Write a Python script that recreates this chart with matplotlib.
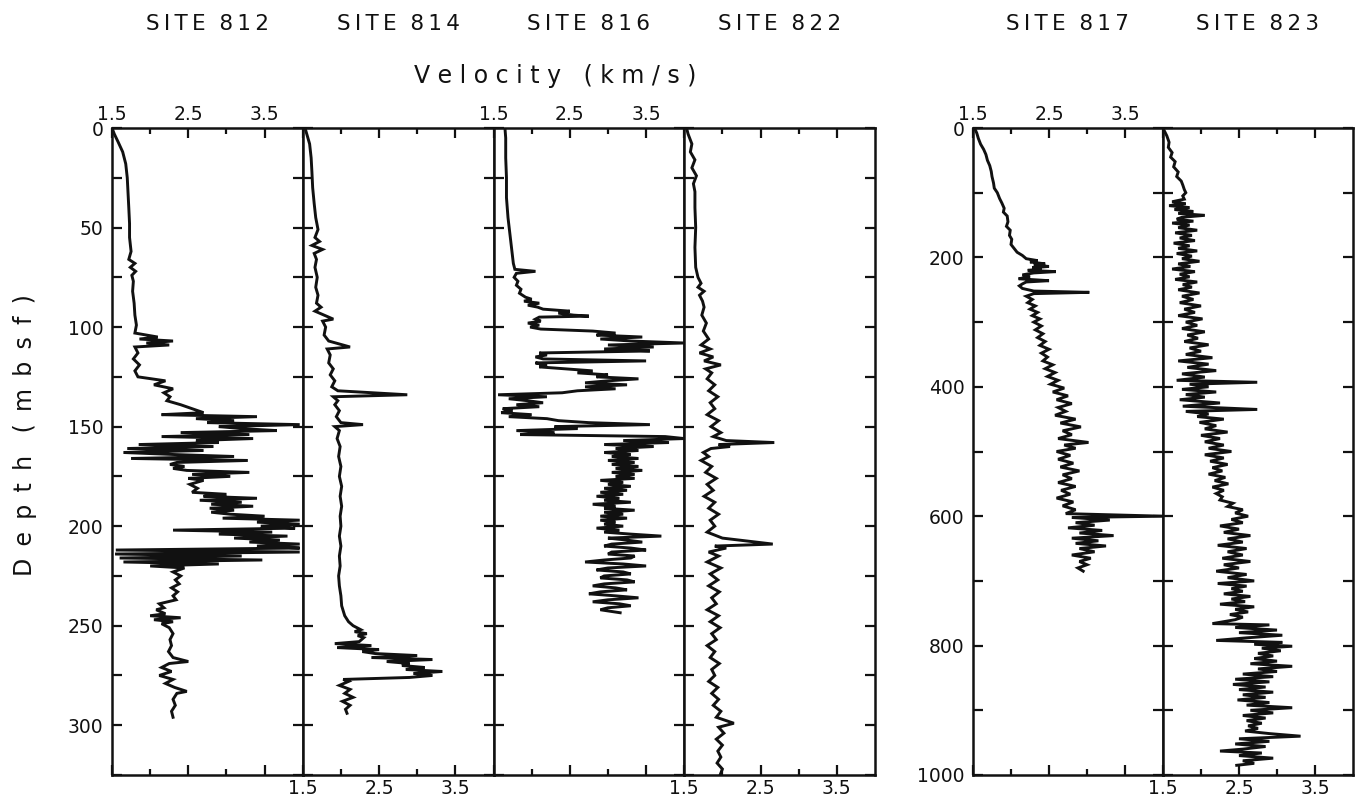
import matplotlib
matplotlib.use("Agg")
import matplotlib.pyplot as plt
from matplotlib.ticker import FixedLocator, MultipleLocator

# (depth mbsf, velocity km/s)
log_812 = [(0, 1.50), (3, 1.53), (7, 1.58), (12, 1.64), (18, 1.68), (25, 1.70), (32, 1.71), (40, 1.72),
           (48, 1.73), (55, 1.73), (62, 1.75), (66, 1.72), (68, 1.80), (70, 1.74), (72, 1.81), (74, 1.76),
           (77, 1.78), (82, 1.77), (88, 1.79), (94, 1.80), (99, 1.82), (103, 1.80), (105, 2.10), (106, 1.86),
           (107, 2.30), (108, 1.95), (109, 2.25), (110, 1.80), (113, 1.84), (116, 1.78), (119, 1.86),
           (122, 1.80), (125, 1.84), (127, 2.20), (129, 2.05), (131, 2.30), (133, 2.18), (135, 2.26),
           (137, 2.22), (139, 2.40), (141, 2.55), (143, 2.70), (144, 2.15), (145, 3.40), (146, 2.60),
           (147, 3.10), (148, 2.75), (149, 3.96), (150, 2.90), (151, 3.20), (152, 3.66), (153, 2.40),
           (154, 3.30), (155, 2.15), (156, 3.35), (157, 2.60), (158, 2.90), (159, 1.85), (160, 2.83),
           (161, 1.70), (162, 2.70), (163, 1.65), (164, 2.30), (165, 3.10), (166, 1.75), (167, 3.28),
           (168, 2.35), (169, 2.26), (170, 2.45), (171, 2.30), (172, 2.48), (173, 3.30), (174, 2.55),
           (175, 3.05), (176, 2.50), (177, 2.70), (179, 2.52), (181, 2.62), (183, 2.55), (184, 3.00),
           (185, 2.70), (186, 3.40), (187, 2.65), (188, 3.20), (189, 2.80), (190, 3.35), (191, 2.78),
           (192, 3.10), (193, 2.80), (194, 3.05), (195, 3.50), (196, 2.95), (197, 3.96), (198, 3.40),
           (199, 3.96), (200, 3.45), (201, 3.90), (202, 2.30), (203, 3.60), (204, 2.90), (205, 3.80),
           (206, 3.10), (207, 3.70), (208, 3.30), (209, 3.96), (210, 3.40), (211, 3.96), (212, 1.55),
           (213, 3.96), (214, 1.54), (215, 3.20), (216, 1.60), (217, 3.47), (218, 1.65), (219, 2.90),
           (220, 2.00), (221, 2.45), (223, 2.30), (225, 2.40), (227, 2.33), (229, 2.38), (231, 2.28),
           (233, 2.36), (235, 2.30), (237, 2.34), (239, 2.12), (241, 2.18), (242, 2.08), (244, 2.20),
           (245, 2.00), (246, 2.40), (247, 2.05), (248, 2.30), (249, 2.15), (251, 2.25), (254, 2.30),
           (257, 2.26), (260, 2.28), (263, 2.24), (266, 2.30), (268, 2.50), (269, 2.25), (271, 2.15),
           (273, 2.28), (275, 2.12), (277, 2.30), (279, 2.20), (281, 2.32), (283, 2.48), (284, 2.35),
           (287, 2.30), (290, 2.33), (293, 2.28), (296, 2.30)]

log_814 = [(0, 1.53), (4, 1.56), (8, 1.59), (15, 1.61), (22, 1.62), (30, 1.63), (38, 1.65), (45, 1.67),
           (51, 1.70), (55, 1.66), (57, 1.72), (59, 1.62), (61, 1.76), (63, 1.65), (66, 1.68), (70, 1.66),
           (75, 1.69), (80, 1.67), (84, 1.70), (88, 1.68), (90, 1.74), (92, 1.66), (94, 1.78), (96, 1.90),
           (97, 1.76), (100, 1.80), (104, 1.78), (107, 1.84), (110, 2.12), (111, 1.82), (114, 1.86),
           (118, 1.84), (121, 1.90), (124, 1.86), (127, 1.92), (130, 1.88), (132, 1.96), (134, 2.87),
           (135, 1.90), (137, 1.96), (139, 1.92), (142, 1.98), (145, 1.94), (148, 2.00), (149, 2.29),
           (150, 1.92), (152, 1.98), (156, 1.95), (160, 1.99), (165, 1.97), (170, 2.00), (175, 1.98),
           (180, 2.01), (185, 1.99), (190, 2.01), (195, 1.99), (200, 2.00), (205, 1.98), (210, 2.00),
           (215, 1.98), (220, 1.99), (225, 1.97), (230, 1.98), (235, 2.00), (240, 2.01), (245, 2.05),
           (248, 2.10), (250, 2.16), (252, 2.26), (253, 2.18), (254, 2.34), (255, 2.22), (256, 2.30),
           (258, 2.24), (259, 1.92), (260, 2.40), (261, 1.95), (262, 2.50), (263, 2.28), (264, 2.45),
           (265, 3.00), (266, 2.40), (267, 3.20), (268, 2.60), (269, 2.90), (270, 2.80), (271, 3.10),
           (272, 2.85), (273, 3.33), (274, 2.95), (275, 3.20), (276, 2.90), (277, 2.03), (278, 2.10),
           (280, 1.98), (282, 2.12), (284, 2.05), (286, 2.16), (288, 2.02), (290, 2.12), (292, 2.06),
           (294, 2.08)]

log_816 = [(0, 1.65), (5, 1.66), (15, 1.66), (25, 1.67), (35, 1.67), (45, 1.69), (55, 1.72), (62, 1.74),
           (68, 1.76), (71, 1.78), (72, 2.05), (73, 1.80), (75, 1.77), (77, 1.82), (79, 1.80), (81, 1.86),
           (83, 1.84), (85, 1.92), (86, 2.00), (87, 1.90), (88, 2.10), (89, 1.95), (90, 2.08), (91, 2.15),
           (92, 2.50), (93, 2.35), (94, 2.55), (94.5, 2.75), (95, 2.10), (96, 2.05), (97, 2.12), (98, 1.95),
           (99, 2.10), (100, 1.98), (101, 2.12), (102, 2.80), (103, 3.10), (104, 2.85), (105, 3.45),
           (106, 2.90), (107, 3.30), (108, 4.00), (109, 3.00), (110, 3.60), (111, 2.95), (112, 3.55),
           (113, 2.10), (114, 2.20), (115, 2.05), (116, 2.15), (117, 3.50), (118, 2.05), (119, 2.20),
           (120, 2.10), (121, 2.45), (122, 2.80), (123, 2.60), (124, 3.00), (125, 2.85), (126, 3.40),
           (127, 3.00), (128, 2.70), (129, 3.25), (130, 2.70), (131, 3.10), (132, 2.60), (133, 2.40),
           (134, 1.56), (135, 2.20), (136, 1.70), (137, 1.95), (138, 2.15), (139, 1.80), (140, 2.10),
           (141, 1.62), (142, 1.75), (143, 1.60), (144, 2.00), (145, 1.70), (146, 2.20), (147, 2.35),
           (148, 2.75), (149, 3.55), (150, 2.30), (151, 2.60), (152, 1.80), (153, 2.30), (154, 1.85),
           (155, 3.75), (156, 4.00), (157, 3.20), (158, 3.80), (159, 2.95), (160, 3.60), (161, 3.10),
           (162, 3.40), (163, 2.95), (164, 3.30), (165, 3.05), (166, 3.40), (167, 3.00), (168, 3.35),
           (169, 3.05), (170, 3.40), (171, 3.10), (172, 3.45), (173, 3.05), (174, 3.35), (175, 3.10),
           (176, 3.35), (177, 2.90), (178, 3.20), (179, 3.00), (180, 3.30), (181, 2.95), (182, 3.25),
           (183, 2.90), (184, 3.20), (185, 2.85), (186, 3.15), (187, 2.95), (188, 3.30), (189, 2.80),
           (190, 3.10), (191, 2.95), (192, 3.35), (193, 2.95), (194, 3.20), (195, 2.90), (196, 3.25),
           (197, 2.90), (198, 3.10), (199, 2.95), (200, 3.20), (201, 2.85), (202, 3.15), (203, 2.95),
           (204, 3.30), (205, 3.70), (206, 3.00), (207, 3.25), (208, 3.45), (209, 3.05), (210, 2.95),
           (211, 3.30), (212, 3.50), (213, 3.05), (214, 3.00), (215, 3.35), (216, 3.30), (217, 2.95),
           (218, 2.70), (219, 3.20), (220, 3.50), (221, 3.00), (222, 2.85), (223, 3.20), (224, 3.30),
           (225, 2.95), (226, 2.90), (227, 3.25), (228, 3.35), (229, 2.95), (230, 2.80), (231, 3.10),
           (232, 3.25), (233, 2.90), (234, 2.75), (235, 3.10), (236, 3.40), (237, 3.00), (238, 2.80),
           (239, 3.15), (240, 3.30), (241, 3.00), (242, 2.90), (243.5, 3.16)]

log_822 = [(0, 1.53), (3, 1.55), (8, 1.60), (12, 1.58), (16, 1.64), (20, 1.60), (24, 1.66), (28, 1.62),
           (32, 1.64), (40, 1.64), (50, 1.65), (60, 1.64), (70, 1.65), (75, 1.68), (78, 1.72), (80, 1.68),
           (82, 1.76), (84, 1.70), (87, 1.74), (90, 1.76), (94, 1.73), (98, 1.79), (102, 1.75), (106, 1.82),
           (109, 1.72), (111, 1.84), (113, 1.70), (115, 1.88), (117, 1.76), (119, 1.98), (121, 1.78),
           (123, 1.86), (126, 1.80), (129, 1.90), (132, 1.82), (135, 1.94), (138, 1.84), (141, 1.90),
           (144, 1.80), (147, 1.95), (150, 1.85), (153, 1.98), (155, 1.88), (157, 2.05), (158, 2.68),
           (159, 1.95), (160, 2.10), (161, 1.85), (163, 1.75), (165, 1.82), (167, 1.72), (170, 1.86),
           (173, 1.78), (176, 1.92), (179, 1.80), (182, 1.88), (185, 1.76), (188, 1.90), (191, 1.82),
           (194, 1.95), (197, 1.84), (200, 1.90), (203, 1.80), (206, 2.00), (209, 2.66), (210, 1.90),
           (211, 2.05), (213, 1.82), (215, 1.95), (218, 1.80), (221, 1.98), (224, 1.84), (227, 1.94),
           (230, 1.82), (233, 1.96), (236, 1.86), (239, 1.92), (242, 1.80), (245, 1.95), (248, 1.84),
           (251, 1.97), (254, 1.86), (257, 1.92), (260, 1.80), (263, 1.90), (266, 1.84), (269, 1.96),
           (272, 1.86), (275, 1.90), (278, 1.82), (281, 1.94), (284, 1.86), (287, 1.95), (290, 1.88),
           (293, 1.98), (296, 1.92), (299, 2.15), (301, 1.95), (304, 2.02), (307, 1.92), (310, 2.00),
           (313, 1.94), (316, 1.98), (319, 1.93), (322, 2.00), (325, 1.97)]

log_817 = [(0, 1.52), (8, 1.55), (16, 1.57), (25, 1.60), (33, 1.64), (41, 1.67), (50, 1.69), (58, 1.72),
           (67, 1.74), (75, 1.75), (85, 1.77), (93, 1.78), (100, 1.82), (109, 1.85), (116, 1.88), (124, 1.91),
           (130, 1.90), (136, 1.95), (145, 1.96), (152, 1.94), (158, 1.99), (166, 1.98), (172, 2.01),
           (180, 2.00), (186, 2.04), (192, 2.08), (197, 2.15), (202, 2.20), (205, 2.35), (207, 2.25),
           (210, 2.45), (212, 2.30), (214, 2.50), (216, 2.28), (218, 2.40), (220, 2.22), (222, 2.59),
           (224, 2.30), (227, 2.15), (230, 2.25), (233, 2.10), (236, 2.50), (238, 2.20), (241, 2.15),
           (244, 2.11), (248, 2.15), (252, 2.30), (254, 3.03), (256, 2.30), (260, 2.20), (265, 2.28),
           (270, 2.22), (275, 2.32), (280, 2.25), (285, 2.35), (290, 2.28), (295, 2.38), (300, 2.30),
           (306, 2.40), (312, 2.32), (318, 2.42), (324, 2.35), (330, 2.45), (336, 2.38), (342, 2.50),
           (348, 2.40), (354, 2.48), (360, 2.42), (366, 2.55), (372, 2.45), (378, 2.58), (384, 2.48),
           (390, 2.62), (396, 2.52), (402, 2.70), (408, 2.55), (414, 2.75), (420, 2.60), (426, 2.80),
           (432, 2.62), (438, 2.72), (444, 2.58), (450, 2.85), (456, 2.65), (462, 2.92), (468, 2.68),
           (474, 2.80), (480, 2.62), (486, 3.02), (490, 2.70), (495, 2.85), (500, 2.60), (506, 2.78),
           (512, 2.62), (518, 2.82), (524, 2.65), (530, 2.90), (536, 2.68), (542, 2.80), (548, 2.62),
           (554, 2.85), (560, 2.66), (566, 2.78), (572, 2.60), (578, 2.82), (584, 2.68), (590, 2.85),
           (596, 2.72), (600, 4.00), (602, 2.80), (606, 3.30), (610, 2.85), (614, 3.10), (618, 2.75),
           (622, 3.20), (626, 2.90), (630, 3.35), (634, 2.80), (638, 3.15), (642, 2.85), (646, 3.25),
           (650, 2.90), (655, 3.10), (660, 2.80), (665, 3.05), (670, 2.90), (675, 3.00), (680, 2.88),
           (685, 2.95)]

log_823 = [(0, 1.50), (5, 1.52), (12, 1.55), (22, 1.58), (30, 1.57), (38, 1.62), (45, 1.60), (52, 1.66),
           (60, 1.64), (68, 1.70), (75, 1.68), (82, 1.74), (88, 1.76), (95, 1.78), (100, 1.80), (105, 1.76),
           (110, 1.78), (114, 1.62), (117, 1.80), (120, 1.58), (123, 1.85), (126, 1.65), (129, 1.90),
           (132, 1.70), (135, 2.05), (138, 1.75), (141, 1.68), (144, 1.90), (147, 1.62), (150, 1.85),
           (154, 1.70), (158, 1.95), (162, 1.66), (166, 1.88), (170, 1.72), (174, 1.92), (178, 1.64),
           (182, 1.85), (186, 1.70), (190, 1.95), (194, 1.68), (198, 1.88), (202, 1.75), (206, 1.98),
           (210, 1.70), (214, 1.86), (218, 1.62), (222, 1.92), (226, 1.72), (230, 1.85), (234, 1.66),
           (238, 1.95), (242, 1.76), (246, 1.88), (250, 1.70), (255, 1.98), (260, 1.75), (265, 1.90),
           (270, 1.72), (275, 2.00), (280, 1.78), (285, 1.92), (290, 1.70), (295, 2.02), (300, 1.80),
           (305, 1.95), (310, 1.75), (315, 2.05), (320, 1.82), (325, 1.96), (330, 1.78), (335, 2.10),
           (340, 1.85), (345, 2.00), (350, 1.80), (355, 2.15), (360, 1.70), (365, 2.10), (370, 1.82),
           (375, 2.20), (380, 1.75), (385, 2.05), (390, 1.68), (393, 2.74), (396, 1.85), (400, 2.10),
           (404, 1.75), (408, 2.20), (412, 1.80), (416, 2.05), (420, 1.72), (425, 2.25), (430, 1.76),
           (435, 2.74), (438, 1.80), (442, 2.10), (446, 1.95), (450, 2.30), (455, 1.98), (460, 2.20),
           (465, 2.05), (470, 2.35), (475, 2.00), (480, 2.25), (485, 2.05), (490, 2.30), (495, 2.10),
           (500, 2.40), (505, 2.05), (510, 2.30), (515, 2.12), (520, 2.35), (525, 2.15), (530, 2.28),
           (535, 2.10), (540, 2.32), (545, 2.18), (550, 2.36), (555, 2.15), (560, 2.30), (565, 2.20),
           (570, 2.28), (575, 2.25), (580, 2.42), (585, 2.35), (590, 2.55), (595, 2.45), (600, 2.62),
           (605, 2.40), (610, 2.55), (615, 2.25), (620, 2.50), (625, 2.30), (630, 2.65), (635, 2.35),
           (640, 2.55), (645, 2.22), (650, 2.60), (655, 2.35), (660, 2.55), (665, 2.28), (670, 2.65),
           (675, 2.30), (680, 2.50), (685, 2.20), (690, 2.60), (695, 2.35), (700, 2.70), (704, 2.22),
           (708, 2.60), (712, 2.40), (716, 2.55), (720, 2.30), (724, 2.65), (728, 2.40), (732, 2.58),
           (736, 2.25), (740, 2.70), (744, 2.45), (748, 2.62), (752, 2.38), (756, 2.55), (760, 2.45),
           (766, 2.15), (768, 2.90), (772, 2.45), (776, 3.00), (780, 2.50), (784, 3.07), (788, 2.60),
           (792, 2.20), (795, 3.07), (798, 2.70), (801, 3.20), (804, 2.80), (808, 3.05), (812, 2.75),
           (816, 2.95), (820, 2.70), (824, 3.00), (828, 2.65), (832, 3.20), (836, 2.75), (840, 3.00),
           (844, 2.55), (848, 2.95), (852, 2.45), (856, 2.90), (860, 2.42), (864, 2.85), (868, 2.50),
           (872, 2.95), (876, 2.55), (880, 2.85), (884, 2.48), (888, 2.90), (892, 2.60), (896, 3.20),
           (900, 2.65), (904, 2.95), (908, 2.55), (912, 2.85), (916, 2.60), (920, 2.80), (924, 2.62),
           (928, 2.75), (932, 2.58), (936, 2.90), (940, 3.31), (944, 2.50), (948, 2.90), (952, 2.45),
           (956, 2.85), (960, 2.55), (963, 2.25), (966, 2.80), (970, 2.50), (974, 2.95), (978, 2.55),
           (982, 2.70), (985, 2.47)]

vel_ticks = [1.5, 2.5, 3.5]
vel_minor = [2.0, 3.0]

# site, data, left edge px, panel width px, depth range, tick labels on top?
panels = [
    ("812", log_812, 112, 190.75, 325, True),
    ("814", log_814, 302.75, 190.75, 325, False),
    ("816", log_816, 493.5, 190.75, 325, True),
    ("822", log_822, 684.25, 190.75, 325, False),
    ("817", log_817, 973, 190, 1000, True),
    ("823", log_823, 1163, 190, 1000, False),
]

W, H = 1360, 807
TOP, BOT = 128, 775
INK = "#111111"
TS = "\u2009"  # thin space for letter spacing

fig = plt.figure(figsize=(W / 100, H / 100), dpi=100)
fig.patch.set_facecolor("white")

for site, log, x0, pw, dmax, top_labels in panels:
    ax = fig.add_axes([x0 / W, 1 - BOT / H, pw / W, (BOT - TOP) / H])
    depth = [d for d, v in log]
    vel = [v for d, v in log]
    ax.plot(vel, depth, color=INK, lw=2.1, solid_joinstyle="miter")
    ax.set_xlim(1.5, 4.0)
    ax.set_ylim(dmax, 0)

    ax.xaxis.set_major_locator(FixedLocator(vel_ticks))
    ax.xaxis.set_minor_locator(FixedLocator(vel_minor))
    ax.set_xticklabels([f"{t:.1f}" for t in vel_ticks])
    if dmax == 325:
        ax.yaxis.set_major_locator(MultipleLocator(50))
        ax.yaxis.set_minor_locator(MultipleLocator(25))
    else:
        ax.yaxis.set_major_locator(MultipleLocator(200))
        ax.yaxis.set_minor_locator(MultipleLocator(100))

    first = x0 in (112, 973)
    ax.tick_params(axis="both", which="both", direction="in", top=True, bottom=True,
                   left=True, right=True, width=1.6, colors=INK, labelsize=13.5)
    ax.tick_params(axis="x", which="major", length=7, pad=3,
                   labeltop=top_labels, labelbottom=not top_labels)
    ax.tick_params(axis="x", which="minor", length=4)
    ax.tick_params(axis="y", which="both", length=7, pad=6, labelleft=first)
    for s in ax.spines.values():
        s.set_linewidth(1.8)
        s.set_color(INK)

    title = TS.join("SITE") + "  " + TS.join(site)
    fig.text((x0 + pw / 2) / W, 1 - 24 / H, title, ha="center", va="center",
             fontsize=15.5, color=INK)

fig.text(555 / W, 1 - 76 / H, "V e l o c i t y   ( k m / s )", ha="center", va="center",
         fontsize=17, color=INK)
fig.text(25 / W, 1 - 435 / H, (" " + TS).join("Depth") + "   " + (" " + TS).join("(mbsf)"),
         ha="center", va="center", rotation=90, fontsize=17, color=INK)

fig.savefig("out.png", dpi=100, facecolor="white")
